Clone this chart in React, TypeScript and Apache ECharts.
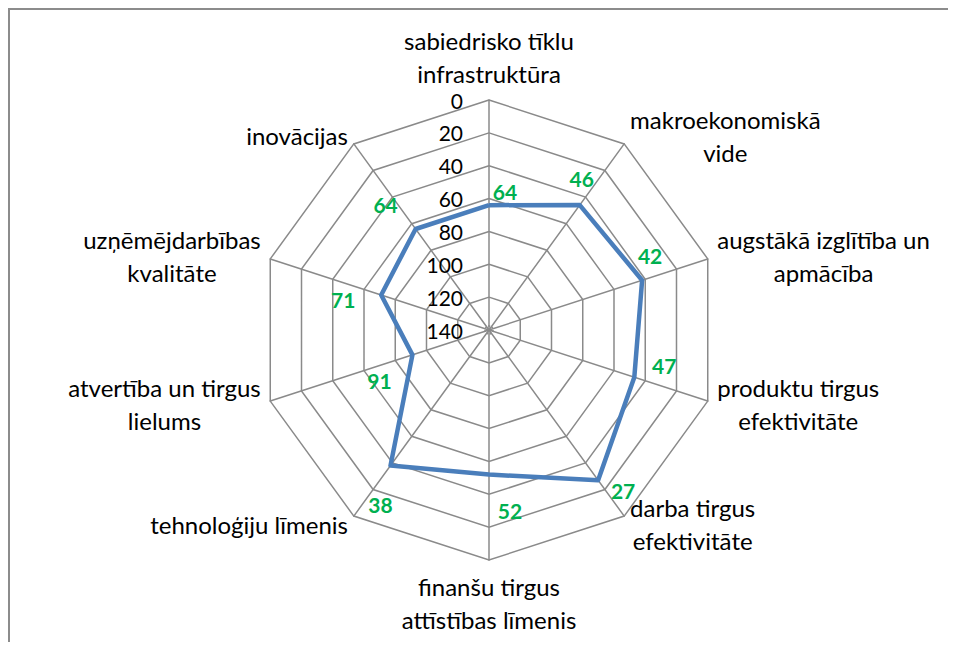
import React, { useEffect, useRef } from 'react';
import * as echarts from 'echarts';

// ---- data ----
const indicatorNames = [
  'sabiedrisko tīklu\ninfrastruktūra',
  'makroekonomiskā\nvide',
  'augstākā izglītība un\napmācība',
  'produktu tirgus\nefektivitāte',
  'darba tirgus\nefektivitāte',
  'finanšu tirgus\nattīstības līmenis',
  'tehnoloģiju līmenis',
  'atvertība un tirgus\nlielums',
  'uzņēmējdarbības\nkvalitāte',
  'inovācijas',
];
const rankValues = [64, 46, 42, 47, 27, 52, 38, 91, 71, 64];
const axisMin = 0;
const axisMax = 140;
const axisStep = 20;

// ---- styling (label offsets relative to each vertex, in px) ----
const labelOffsets: [number, number][] = [
  [16, -14], [2, -27], [8, -25], [30, -12], [25, 10],
  [21, 36], [-10, 39], [-33, 26], [-38, 5], [-30, -24],
];

const FONT = 'Lato, "Open Sans", sans-serif';
const CX = 481;
const CY = 322;
const W = 940;
const H = 634;

export default function App() {
  const ref = useRef<HTMLDivElement>(null);

  useEffect(() => {
    if (!ref.current) return;
    const chart = echarts.init(ref.current, null, { renderer: 'svg' });

    // ECharts places radar indicators counter-clockwise; reorder so they run clockwise
    const order = [0, ...indicatorNames.map((_, i) => i).slice(1).reverse()];

    const indicator = order.map((oi, k) => {
      const base: any = { name: indicatorNames[oi], min: axisMin, max: axisMax };
      if (k === 0) base.axisLabel = { show: true };
      return base;
    });
    // reversed scale: 0 at the rim, 140 at the centre
    const seriesValues = order.map((oi) => axisMax - rankValues[oi]);

    const rich: Record<string, any> = {};
    labelOffsets.forEach(([dx, dy], i) => {
      rich['v' + i] = {
        fontFamily: FONT,
        fontSize: 21,
        fontWeight: 'bold',
        color: '#00B050',
        padding: [dy > 0 ? 2 * dy : 0, dx < 0 ? -2 * dx : 0, dy < 0 ? -2 * dy : 0, dx > 0 ? 2 * dx : 0],
      };
    });

    const option: any = {
      animation: false,
      backgroundColor: '#ffffff',
      graphic: [
        {
          type: 'line',
          shape: { x1: 0, y1: 1, x2: W, y2: 1 },
          style: { stroke: '#8c8c8c', lineWidth: 2 },
          silent: true,
        },
        {
          type: 'line',
          shape: { x1: 1, y1: 0, x2: 1, y2: H },
          style: { stroke: '#8c8c8c', lineWidth: 2 },
          silent: true,
        },
        {
          type: 'circle',
          shape: { cx: CX, cy: CY, r: 4 },
          style: { fill: 'none', stroke: '#8a8a8a', lineWidth: 1.5, lineDash: [2, 1.5] },
          silent: true,
          z: 100,
        },
      ],
      radar: {
        center: [CX, CY],
        radius: 230,
        startAngle: 90,
        shape: 'polygon',
        splitNumber: (axisMax - axisMin) / axisStep,
        indicator,
        axisName: {
          formatter: (name: string) =>
            name.split('\n').map((l) => `{n|${l}}`).join('\n'),
          rich: {
            n: { align: 'center', fontFamily: FONT, fontSize: 24, lineHeight: 33, color: '#000000' },
          },
        },
        nameGap: 10,
        axisLine: { show: true, lineStyle: { color: '#8a8a8a', width: 1.5 } },
        splitLine: { show: true, lineStyle: { color: '#8a8a8a', width: 1.5 } },
        splitArea: { show: false },
        axisTick: { show: false },
        axisLabel: {
          show: false,
          margin: 26,
          fontFamily: FONT,
          fontSize: 21,
          color: '#000000',
          formatter: (v: number) => String(axisMax - v),
        },
      },
      series: [
        {
          type: 'radar',
          symbol: 'circle',
          symbolSize: 1,
          itemStyle: { color: '#4A7EBB' },
          lineStyle: { color: '#4A7EBB', width: 4.5 },
          label: {
            show: true,
            position: 'inside',
            formatter: (p: any) => {
              const d = p.dimensionIndex;
              const oi = order[d];
              const v = axisMax - (typeof p.value === 'number' ? p.value : seriesValues[d]);
              return `{v${oi}|${v}}`;
            },
            rich,
          },
          data: [{ value: seriesValues, name: 'rank' }],
        },
      ],
    };

    chart.setOption(option);
    return () => chart.dispose();
  }, []);

  return <div ref={ref} style={{ width: W, height: H }} />;
}
